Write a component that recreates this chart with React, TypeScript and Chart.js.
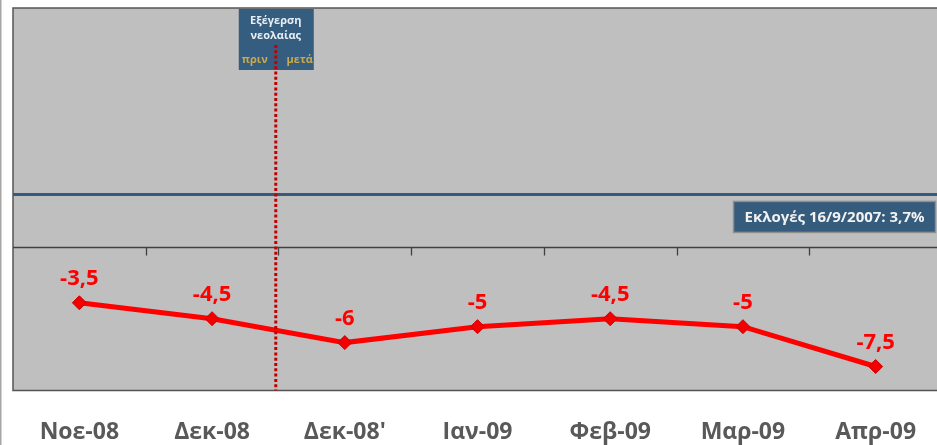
import React, { useEffect, useRef } from 'react';
import { Chart, registerables } from 'chart.js';

Chart.register(...registerables);

const categories = ['Νοε-08', 'Δεκ-08', "Δεκ-08'", 'Ιαν-09', 'Φεβ-09', 'Μαρ-09', 'Απρ-09'];
const values = [-3.5, -4.5, -6, -5, -4.5, -5, -7.5];
const yMin = -9;
const yMax = 15;
const electionLevel = 3.3;
const electionLabel = 'Εκλογές 16/9/2007: 3,7%';
const eventPosition = 1.48;
const eventLines = ['Εξέγερση', 'νεολαίας'];
const beforeAfter = ['πριν', 'μετά'];

const FONT = '"Open Sans", "Noto Sans", sans-serif';

const decorPlugin = {
  id: 'decor',
  beforeDatasetsDraw(chart: any) {
    const { ctx, chartArea: a, scales } = chart;
    const x = scales.x;
    const y = scales.y;
    ctx.save();
    // outer frame line
    ctx.fillStyle = '#a6a6a6';
    ctx.fillRect(0, 0, 1.5, chart.height);
    // plot background
    ctx.fillStyle = '#bfbfbf';
    ctx.fillRect(a.left, a.top, chart.width - a.left, a.bottom - a.top);
    // borders
    ctx.strokeStyle = '#555555';
    ctx.lineWidth = 1.5;
    ctx.beginPath();
    ctx.moveTo(chart.width, a.top);
    ctx.lineTo(a.left, a.top);
    ctx.lineTo(a.left, a.bottom);
    ctx.lineTo(chart.width, a.bottom);
    ctx.stroke();
    // election line
    const ey = y.getPixelForValue(electionLevel);
    ctx.strokeStyle = '#365a7c';
    ctx.lineWidth = 3;
    ctx.beginPath();
    ctx.moveTo(a.left, ey);
    ctx.lineTo(chart.width, ey);
    ctx.stroke();
    // zero line + ticks
    const zy = Math.round(y.getPixelForValue(0)) + 0.5;
    ctx.strokeStyle = '#404040';
    ctx.lineWidth = 1.3;
    ctx.beginPath();
    ctx.moveTo(a.left, zy);
    ctx.lineTo(chart.width, zy);
    for (let i = 0; i < categories.length - 1; i++) {
      const tx = Math.round(x.getPixelForValue(i + 0.5)) + 0.5;
      ctx.moveTo(tx, zy);
      ctx.lineTo(tx, zy + 8);
    }
    ctx.stroke();
    // event annotation box
    const vx = x.getPixelForValue(eventPosition);
    const bx = vx - 37;
    const bw = 75;
    const by = a.top + 1;
    const bh = 61;
    ctx.fillStyle = '#355d7f';
    ctx.fillRect(bx, by, bw, bh);
    ctx.fillStyle = '#e9eef4';
    ctx.font = `bold 11px ${FONT}`;
    ctx.textAlign = 'center';
    ctx.textBaseline = 'middle';
    ctx.fillText(eventLines[0], vx, by + 12);
    ctx.fillText(eventLines[1], vx, by + 27);
    ctx.fillStyle = '#c9a94c';
    ctx.fillText(beforeAfter[0], vx - 21, by + 51);
    ctx.fillText(beforeAfter[1], vx + 24, by + 51);
    ctx.restore();
  },
  afterDatasetsDraw(chart: any) {
    const { ctx, chartArea: a, scales } = chart;
    const x = scales.x;
    const y = scales.y;
    ctx.save();
    // dotted event line
    const vx = x.getPixelForValue(eventPosition);
    ctx.strokeStyle = '#c00000';
    ctx.lineWidth = 3;
    ctx.setLineDash([3, 2.3]);
    ctx.beginPath();
    ctx.moveTo(vx, a.top + 37);
    ctx.lineTo(vx, a.bottom);
    ctx.stroke();
    ctx.setLineDash([]);
    // election label box
    const ey = y.getPixelForValue(electionLevel);
    const bx = 733.5;
    const bw = 202;
    const by = ey + 7;
    const bh = 31;
    ctx.fillStyle = '#355b7d';
    ctx.fillRect(bx, by, bw, bh);
    ctx.strokeStyle = '#8f8f8f';
    ctx.lineWidth = 1.5;
    ctx.strokeRect(bx, by, bw, bh);
    ctx.fillStyle = '#f2f2f2';
    ctx.font = `bold 15px ${FONT}`;
    ctx.textAlign = 'center';
    ctx.textBaseline = 'middle';
    ctx.fillText(electionLabel, bx + bw / 2, by + bh / 2 + 0.5);
    // data labels
    const meta = chart.getDatasetMeta(0);
    ctx.fillStyle = '#ff0000';
    ctx.font = `bold 22px ${FONT}`;
    ctx.textBaseline = 'alphabetic';
    meta.data.forEach((pt: any, i: number) => {
      const label = String(values[i]).replace('.', ',');
      ctx.fillText(label, pt.x, pt.y - 18);
    });
    ctx.restore();
  },
};

export default function App() {
  const ref = useRef<HTMLCanvasElement>(null);
  useEffect(() => {
    if (!ref.current) return;
    const chart = new Chart(ref.current, {
      type: 'line',
      data: {
        labels: categories,
        datasets: [
          {
            data: values,
            borderColor: '#ff0000',
            borderWidth: 5,
            pointStyle: 'rectRot',
            pointRadius: 7,
            pointBackgroundColor: '#f20000',
            pointBorderColor: '#d00000',
            pointBorderWidth: 1,
            tension: 0,
          },
        ],
      },
      options: {
        animation: false,
        responsive: false,
        devicePixelRatio: 1,
        layout: { padding: { left: 13, top: 6, right: 0, bottom: 1 } },
        plugins: { legend: { display: false }, tooltip: { enabled: false } },
        scales: {
          y: { display: false, min: yMin, max: yMax },
          x: {
            offset: true,
            grid: { display: false, drawTicks: false },
            border: { display: false },
            ticks: {
              padding: 28,
              maxRotation: 0,
              autoSkip: false,
              color: '#595959',
              font: { family: FONT, size: 23, weight: 'bold' },
            },
          },
        },
      },
      plugins: [decorPlugin],
    });
    return () => chart.destroy();
  }, []);
  return (
    <div
      style={{
        position: 'fixed',
        left: 0,
        top: 0,
        width: 937,
        height: 445,
        overflow: 'hidden',
        background: '#ffffff',
      }}
    >
      <div style={{ width: 950, height: 475 }}>
        <canvas ref={ref} width={950} height={475} style={{ display: 'block' }} />
      </div>
    </div>
  );
}
